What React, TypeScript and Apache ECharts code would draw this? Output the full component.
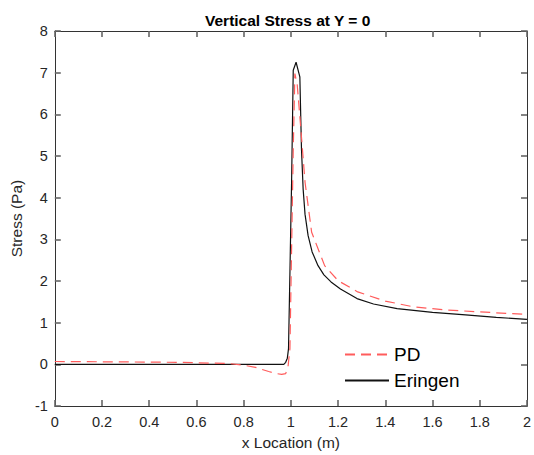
import React, { useEffect, useRef } from "react";
import * as echarts from "echarts";

const eringenX = [0, 0.5, 0.9, 0.97, 0.978, 0.985, 0.99, 1.003, 1.01, 1.022, 1.038, 1.045, 1.052, 1.06, 1.073, 1.09, 1.115, 1.14, 1.17, 1.21, 1.28, 1.35, 1.45, 1.6, 1.74, 1.87, 2.0];
const eringenY = [0, 0, 0, 0, 0.05, 0.15, 0.38, 4.37, 7.06, 7.25, 6.9, 5.15, 4.2, 3.6, 3.09, 2.7, 2.37, 2.15, 1.98, 1.81, 1.58, 1.45, 1.34, 1.25, 1.19, 1.13, 1.08];

const pdX = [0, 0.3, 0.53, 0.74, 0.8, 0.85, 0.906, 0.94, 0.961, 0.978, 0.988, 0.996, 1.003, 1.01, 1.017, 1.027, 1.038, 1.06, 1.088, 1.143, 1.2, 1.283, 1.4, 1.52, 1.65, 1.8, 2.0];
const pdY = [0.07, 0.06, 0.05, 0.02, -0.02, -0.07, -0.17, -0.22, -0.24, -0.22, -0.05, 0.38, 2.77, 5.15, 6.98, 6.7, 5.95, 4.37, 3.17, 2.37, 2.01, 1.74, 1.52, 1.38, 1.31, 1.26, 1.2];

const seriesNames = ["PD", "Eringen"];
const titleText = "Vertical Stress at Y = 0";
const xName = "x Location (m)";
const yName = "Stress (Pa)";

export default function App() {
  const ref = useRef<HTMLDivElement>(null);
  useEffect(() => {
    if (!ref.current) return;
    const chart = echarts.init(ref.current, null, { renderer: "svg" });
    const font = "Arial, 'Liberation Sans', sans-serif";
    const axisCol = "#333";
    const tick = () => ({ show: true, inside: true, length: 6, lineStyle: { color: "#666", width: 1.6 } });
    chart.setOption({
      animation: false,
      backgroundColor: "#fff",
      title: {
        text: titleText,
        left: 200,
        top: 7,
        textStyle: { fontFamily: font, fontSize: 15.5, fontWeight: "bold", color: "#000" },
      },
      grid: { left: 54, right: 3, top: 31, bottom: 47, containLabel: false },
      legend: {
        orient: "vertical",
        left: 339,
        top: 340,
        itemWidth: 44,
        itemHeight: 10,
        itemGap: 7,
        data: seriesNames,
        itemStyle: { opacity: 0 },
        textStyle: { fontFamily: font, fontSize: 19, color: "#000" },
      },
      xAxis: [
        {
          type: "value",
          min: 0,
          max: 2,
          interval: 0.2,
          position: "bottom",
          axisLine: { show: true, onZero: false, lineStyle: { color: axisCol, width: 1 } },
          axisTick: tick(),
          splitLine: { show: false },
          name: xName,
          nameLocation: "middle",
          nameGap: 27,
          nameTextStyle: { fontFamily: font, fontSize: 15.5, color: "#262626" },
          axisLabel: { show: true, margin: 8, fontFamily: font, fontSize: 14.5, color: "#262626" },
        },
        {
          type: "value",
          min: 0,
          max: 2,
          interval: 0.2,
          position: "top",
          axisLine: { show: true, onZero: false, lineStyle: { color: axisCol, width: 1 } },
          axisTick: tick(),
          splitLine: { show: false },
          axisLabel: { show: false },
        },
      ],
      yAxis: [
        {
          type: "value",
          min: -1,
          max: 8,
          interval: 1,
          position: "left",
          axisLine: { show: true, onZero: false, lineStyle: { color: axisCol, width: 1 } },
          axisTick: tick(),
          splitLine: { show: false },
          name: yName,
          nameLocation: "middle",
          nameGap: 26,
          nameTextStyle: { fontFamily: font, fontSize: 15.5, color: "#262626" },
          axisLabel: { show: true, margin: 7, fontFamily: font, fontSize: 14.5, color: "#262626" },
        },
        {
          type: "value",
          min: -1,
          max: 8,
          interval: 1,
          position: "right",
          axisLine: { show: true, onZero: false, lineStyle: { color: axisCol, width: 1 } },
          axisTick: tick(),
          splitLine: { show: false },
          axisLabel: { show: false },
        },
      ],
      series: [
        {
          name: seriesNames[0],
          type: "line",
          symbol: "none",
          data: pdX.map((x, i) => [x, pdY[i]]),
          lineStyle: { color: "#ff5c5c", width: 1.2, type: [10, 6] },
          itemStyle: { color: "#ff5c5c" },
          z: 3,
        },
        {
          name: seriesNames[1],
          type: "line",
          symbol: "none",
          data: eringenX.map((x, i) => [x, eringenY[i]]),
          lineStyle: { color: "#111", width: 1.2 },
          itemStyle: { color: "#111" },
          z: 2,
        },
      ],
    });
    return () => chart.dispose();
  }, []);
  return <div ref={ref} style={{ position: "fixed", left: 0, top: 0, width: 534, height: 455 }} />;
}
